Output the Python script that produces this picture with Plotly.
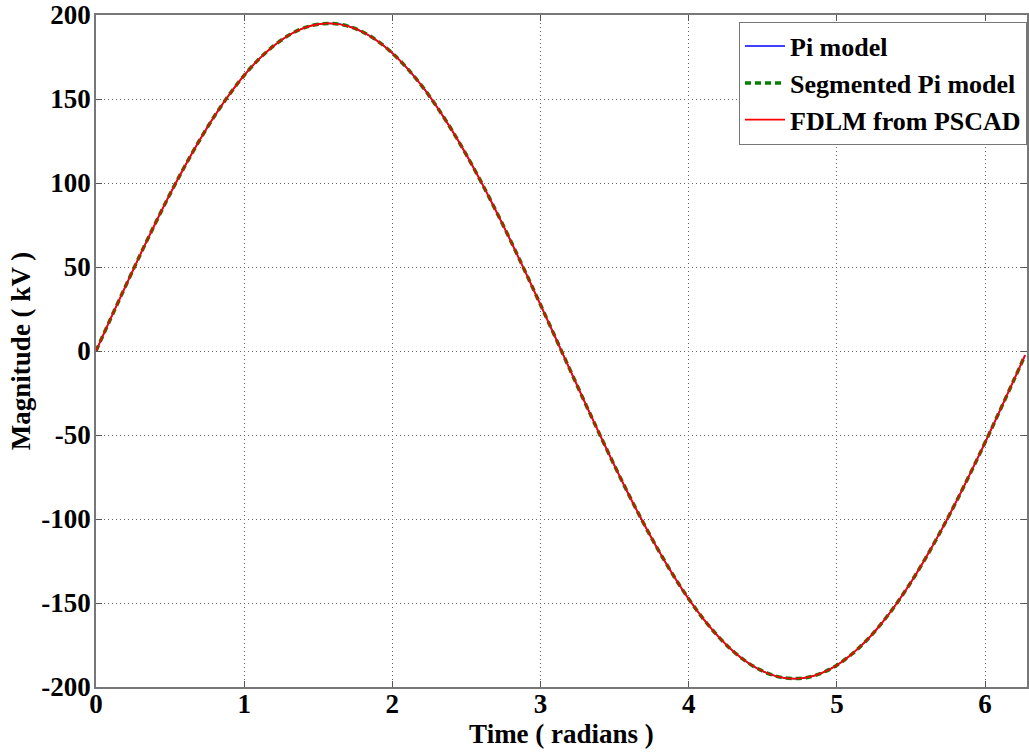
import plotly.graph_objects as go

time_rad = [0.0, 0.1, 0.2, 0.3, 0.4, 0.5, 0.6, 0.7, 0.8, 0.9,
            1.0, 1.1, 1.2, 1.3, 1.4, 1.5, 1.6, 1.7, 1.8, 1.9,
            2.0, 2.1, 2.2, 2.3, 2.4, 2.5, 2.6, 2.7, 2.8, 2.9,
            3.0, 3.1, 3.2, 3.3, 3.4, 3.5, 3.6, 3.7, 3.8, 3.9,
            4.0, 4.1, 4.2, 4.3, 4.4, 4.5, 4.6, 4.7, 4.8, 4.9,
            5.0, 5.1, 5.2, 5.3, 5.4, 5.5, 5.6, 5.7, 5.8, 5.9,
            6.0, 6.1, 6.2, 6.27]

pi_model = [0.0, 19.5, 38.7, 57.6, 75.9, 93.5, 110.1, 125.6, 139.9, 152.7,
            164.1, 173.8, 181.7, 187.9, 192.2, 194.5, 194.9, 193.4, 189.9, 184.5,
            177.3, 168.3, 157.7, 145.4, 131.7, 116.7, 100.5, 83.3, 65.3, 46.6,
            27.5, 8.1, -11.4, -30.8, -49.8, -68.4, -86.3, -103.3, -119.3, -134.1,
            -147.6, -159.6, -170.0, -178.7, -185.6, -190.6, -193.8, -195.0, -194.3, -191.6,
            -187.0, -180.5, -172.3, -162.3, -150.7, -137.6, -123.1, -107.4, -90.6, -72.9,
            -54.5, -35.5, -16.2, -2.5]

segmented_pi = [0.0, 19.5, 38.7, 57.6, 75.9, 93.5, 110.1, 125.6, 139.9, 152.7,
                164.1, 173.8, 181.7, 187.9, 192.2, 194.5, 194.9, 193.4, 189.9, 184.5,
                177.3, 168.3, 157.7, 145.4, 131.7, 116.7, 100.5, 83.3, 65.3, 46.6,
                27.5, 8.1, -11.4, -30.8, -49.8, -68.4, -86.3, -103.3, -119.3, -134.1,
                -147.6, -159.6, -170.0, -178.7, -185.6, -190.6, -193.8, -195.0, -194.3, -191.6,
                -187.0, -180.5, -172.3, -162.3, -150.7, -137.6, -123.1, -107.4, -90.6, -72.9,
                -54.5, -35.5, -16.2, -2.5]

fdlm_pscad = [0.0, 19.5, 38.7, 57.6, 75.9, 93.5, 110.1, 125.6, 139.9, 152.7,
              164.1, 173.8, 181.7, 187.9, 192.2, 194.5, 194.9, 193.4, 189.9, 184.5,
              177.3, 168.3, 157.7, 145.4, 131.7, 116.7, 100.5, 83.3, 65.3, 46.6,
              27.5, 8.1, -11.4, -30.8, -49.8, -68.4, -86.3, -103.3, -119.3, -134.1,
              -147.6, -159.6, -170.0, -178.7, -185.6, -190.6, -193.8, -195.0, -194.3, -191.6,
              -187.0, -180.5, -172.3, -162.3, -150.7, -137.6, -123.1, -107.4, -90.6, -72.9,
              -54.5, -35.5, -16.2, -2.5]

x_ticks = [0, 1, 2, 3, 4, 5, 6]
y_ticks = [-200, -150, -100, -50, 0, 50, 100, 150, 200]

FONT = "Liberation Serif"

fig = go.Figure()
fig.add_trace(go.Scatter(x=time_rad, y=pi_model, mode="lines", name="<b>Pi model</b>",
                         line=dict(color="#0000ff", width=1.5, shape="spline")))
fig.add_trace(go.Scatter(x=time_rad, y=segmented_pi, mode="lines", name="<b>Segmented Pi model</b>",
                         line=dict(color="#008000", width=3.5, dash="6px,4px", shape="spline")))
fig.add_trace(go.Scatter(x=time_rad, y=fdlm_pscad, mode="lines", name="<b>FDLM from PSCAD</b>",
                         line=dict(color="#ff0000", width=1.8, shape="spline")))

axis_common = dict(
    showline=True, linecolor="#777777", linewidth=1.5, mirror="ticks",
    ticks="inside", ticklen=6, tickcolor="#555555", tickwidth=1,
    showgrid=True, gridcolor="#666666", griddash="1px,3px", gridwidth=1,
    zeroline=False,
    tickfont=dict(family=FONT, size=27, color="black"),
)

fig.update_xaxes(range=[0, 6.283], tickvals=x_ticks, ticktext=["<b>%d</b>" % v for v in x_ticks],
                 ticklabelstandoff=-8,
                 title=dict(text="<b>Time ( radians )</b>", font=dict(family=FONT, size=27, color="black"),
                            standoff=0),
                 **axis_common)
fig.update_yaxes(range=[-200, 200], tickvals=y_ticks, ticktext=["<b>%d</b>" % v for v in y_ticks],
                 ticklabelstandoff=-2,
                 title=dict(text="<b>Magnitude ( kV )</b>", font=dict(family=FONT, size=27, color="black"),
                            standoff=3),
                 **axis_common)

fig.update_layout(
    width=1029, height=753,
    margin=dict(l=96, r=0, t=15, b=66),
    plot_bgcolor="white", paper_bgcolor="white",
    font=dict(family=FONT, color="black"),
    legend=dict(x=1, y=0.99, xanchor="right", yanchor="top",
                bgcolor="white", bordercolor="#777777", borderwidth=1,
                font=dict(family=FONT, size=26, color="black"),
                tracegroupgap=0, itemwidth=40),
)

fig.write_html("out.html")
